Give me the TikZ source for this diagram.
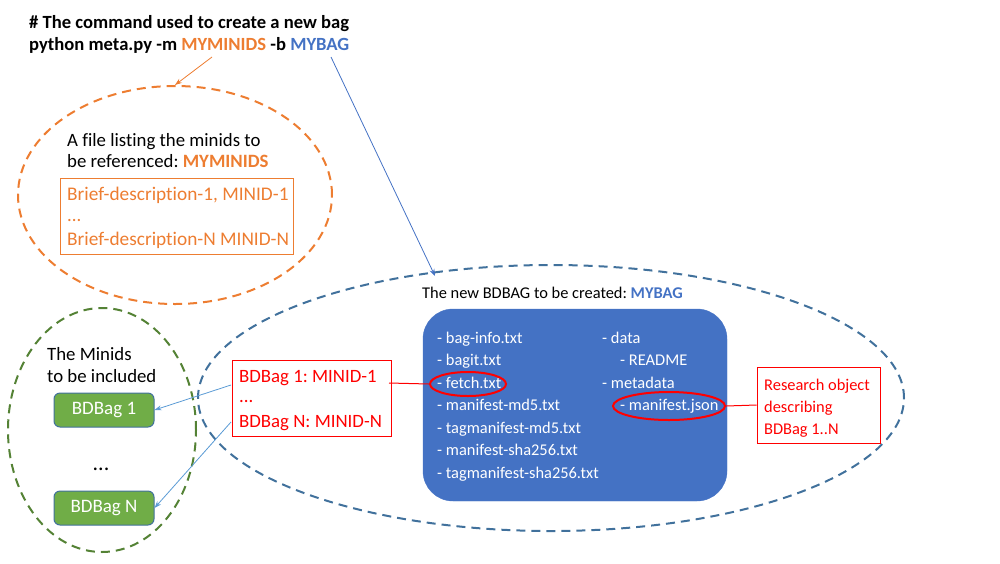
\documentclass[tikz,border=0pt]{standalone}
\usepackage{fontspec}
\setmainfont{Carlito}[Ligatures=NoCommon]
\usetikzlibrary{arrows.meta,shapes.geometric}
\definecolor{orng}{HTML}{ED7D31}
\definecolor{bluet}{HTML}{4472C4}
\definecolor{blued}{HTML}{41719C}
\definecolor{greend}{HTML}{548235}
\definecolor{greenf}{HTML}{70AD47}
\definecolor{lblue}{HTML}{5B9BD5}
\definecolor{redc}{HTML}{FF0000}
\frenchspacing
\tikzset{
  txt/.style={anchor=base west,inner sep=0pt,font=\fontsize{18.8}{22}\selectfont},
  stxt/.style={anchor=base west,inner sep=0pt,font=\fontsize{16.4}{20}\selectfont},
  dashell/.style={ellipse,draw,line width=2pt,dash pattern=on 9pt off 6pt,inner sep=0pt},
  redbox/.style={draw=redc,line width=1pt,inner sep=0pt},
  orbox/.style={draw=orng,line width=1pt,inner sep=0pt},
  redell/.style={ellipse,draw=redc,line width=2pt,inner sep=0pt},
  bagbox/.style={draw=blued,fill=greenf,line width=1pt,rounded corners=6pt,minimum width=100pt,minimum height=34pt,inner sep=0pt,text=white,font=\fontsize{19}{22}\selectfont},
  arr/.style={-{Stealth[length=7pt,width=5pt]},line width=0.8pt},
}
\begin{document}
\begin{tikzpicture}[x=1pt,y=-1pt]
\useasboundingbox (0,0) rectangle (1000,563);
% heading
\node[txt,font=\fontsize{18.6}{22}\selectfont\bfseries] (h1) at (29,28) {\# The command used to create a new bag};
\node[txt,font=\fontsize{18.6}{22}\selectfont\bfseries] (h2) at (29,50) {python meta.py -m \textcolor{orng}{MYMINIDS} -b \textcolor{bluet}{MYBAG}};
\coordinate (om) at (212,57);
\coordinate (bm) at (331,57);
% orange ellipse
\node[dashell,draw=orng,minimum width=314pt,minimum height=218pt] (oe) at (175,195) {};
\node[txt] (ot1) at (67,146) {A file listing the minids to};
\node[txt] (ot2) at (67,167) {be referenced: \textcolor{orng}{\bfseries MYMINIDS}};
\node[orbox,minimum width=233pt,minimum height=76pt] (ob) at (176.5,216) {};
\node[txt,text=orng,font=\fontsize{19.3}{22}\selectfont] (ol1) at (67,200) {Brief-description-1, MINID-1};
\node[txt,text=orng] (ol2) at (67,221) {...};
\node[txt,text=orng,font=\fontsize{19.3}{22}\selectfont] (ol3) at (67,245) {Brief-description-N MINID-N};
\draw[arr,orng] (om) -- (oe.north);
% big blue ellipse
\node[dashell,draw=blued,minimum width=706pt,minimum height=266pt] (be) at (551,398) {};
\draw[arr,bluet] (bm) -- (435,276);
\node[stxt] (bt) at (422,298) {The new BDBAG to be created: \textcolor{bluet}{\bfseries MYBAG}};
\node[draw=bluet,fill=bluet,rounded corners=30pt,minimum width=304pt,minimum height=192pt,inner sep=0pt] (rect) at (575,405) {};
\foreach \t/\y [count=\i] in {bag-info.txt/343,bagit.txt/365.5,fetch.txt/388,manifest-md5.txt/410.5,tagmanifest-md5.txt/433,manifest-sha256.txt/455.5,tagmanifest-sha256.txt/478}
  \node[stxt,text=white] (l\i) at (437,\y) {- \t};
\node[stxt,text=white] (r1) at (602,343) {- data};
\node[stxt,text=white] (r2) at (620,365.5) {- README};
\node[stxt,text=white] (r3) at (602,388) {- metadata};
\node[stxt,text=white] (r4) at (620,410.5) {- manifest.json};
\node[redell,minimum width=76pt,minimum height=24pt] (fe) at (468,384) {};
\node[redell,minimum width=112pt,minimum height=28pt] (me) at (669,406) {};
% research box
\node[redbox,minimum width=123pt,minimum height=76pt] (rb) at (818.5,405) {};
\node[stxt,text=redc] (rb1) at (764,390) {Research object};
\node[stxt,text=redc] (rb2) at (764,412) {describing};
\node[stxt,text=redc] (rb3) at (764,434) {BDBag 1..N};
\draw[redc,line width=1pt] (me.east) -- (rb.west);
% minid box
\node[redbox,minimum width=159pt,minimum height=76pt] (mb) at (311.5,398) {};
\node[txt,text=redc] (mb1) at (239,382) {BDBag 1: MINID-1};
\node[txt,text=redc] (mb2) at (239,402) {...};
\node[txt,text=redc] (mb3) at (239,427) {BDBag N: MINID-N};
\coordinate (mbr) at (389,383);
\draw[redc,line width=1pt] (mbr) -- (fe.west);
% green ellipse
\node[dashell,draw=greend,minimum width=188pt,minimum height=244pt] (ge) at (102,430) {};
\node[txt] (g1) at (47,360) {The Minids};
\node[txt] (g2) at (47,382) {to be included};
\node[bagbox] (b1) at (104,410) {BDBag 1};
\node[anchor=base,inner sep=0pt,font=\fontsize{22}{26}\selectfont] (dots) at (101,470) {...};
\node[bagbox] (bn) at (104,508) {BDBag N};
\coordinate (a1) at (231,385);
\coordinate (a2) at (231,422);
\draw[arr,lblue] (a1) -- (b1.east);
\draw[arr,lblue] (a2) -- (bn.east);
\end{tikzpicture}
\end{document}
